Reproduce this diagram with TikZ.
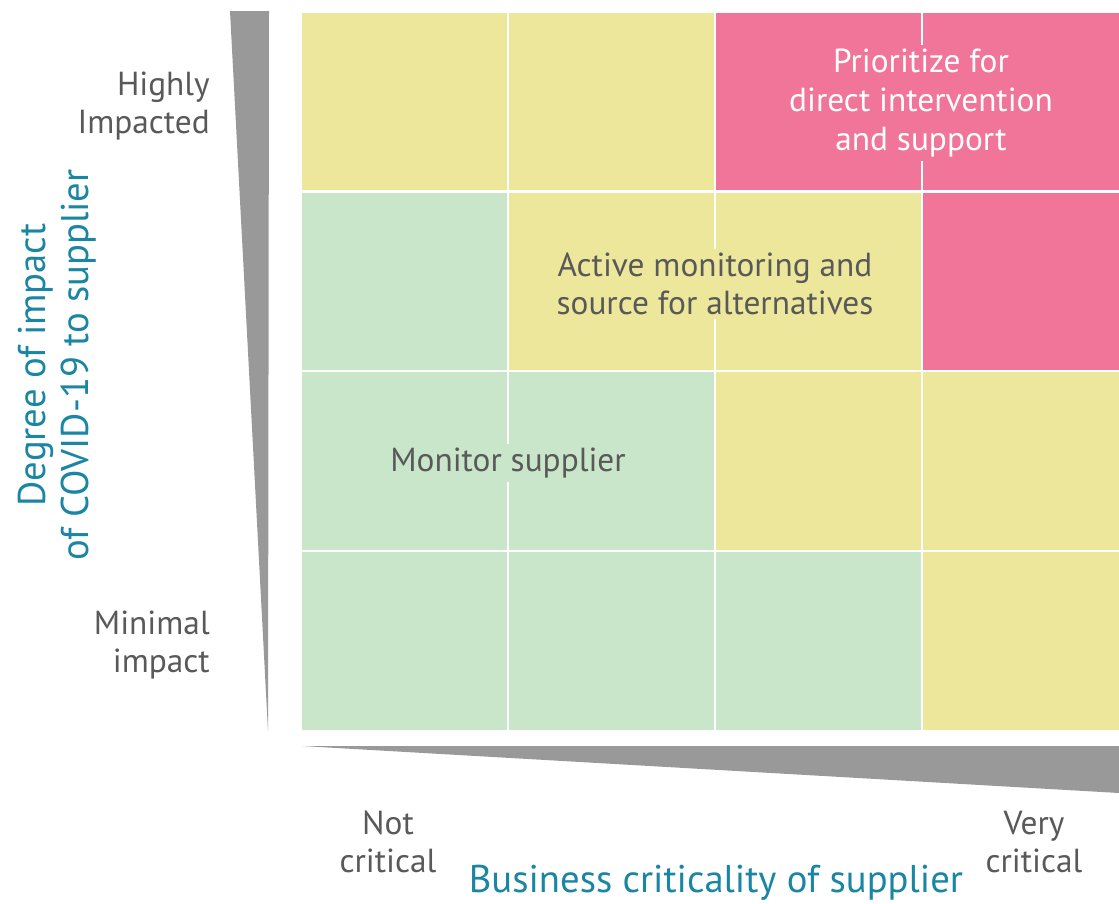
\documentclass[tikz,border=0pt]{standalone}
\usepackage{fontspec}
\setmainfont{PT Sans}
\usepackage{tikz}
\usetikzlibrary{positioning}
\definecolor{cyel}{HTML}{EDE79B}
\definecolor{cpink}{HTML}{F07598}
\definecolor{cgreen}{HTML}{C9E6CA}
\definecolor{caxis}{HTML}{999999}
\definecolor{ctext}{HTML}{595959}
\definecolor{cblue}{HTML}{1A86A4}
\tikzset{
  lbl/.style={text=ctext,align=center,inner sep=0pt,font=\fontsize{25}{29}\selectfont},
  ttl/.style={text=cblue,align=center,inner sep=0pt,font=\fontsize{29}{32.5}\selectfont},
  tag/.style={lbl,inner xsep=1pt,inner ysep=3pt}
}

\begin{document}
\begin{tikzpicture}[x=0.75pt,y=-0.75pt]
  \useasboundingbox (0,0) rectangle (1119,903);
  % cells, row by row
  \foreach \c [count=\i from 0] in {cyel,cyel,cpink,cpink}
    \fill[\c] (302+207*\i,13) rectangle ++(205,177);
  \foreach \c [count=\i from 0] in {cgreen,cyel,cyel,cpink}
    \fill[\c] (302+207*\i,193) rectangle ++(205,177);
  \foreach \c [count=\i from 0] in {cgreen,cgreen,cyel,cyel}
    \fill[\c] (302+207*\i,372) rectangle ++(205,178);
  \foreach \c [count=\i from 0] in {cgreen,cgreen,cgreen,cyel}
    \fill[\c] (302+207*\i,552) rectangle ++(205,178);
  \fill[white] (1119,0) rectangle (1130,903);
  % axis wedges
  \fill[caxis] (230,11) -- (269,11) -- (268,731) -- cycle;
  \fill[caxis] (302,746) -- (1119,746) -- (1119,793) -- cycle;
  % quadrant texts
  \node[tag,fill=cpink,text=white] (prio) at (921,103) {Prioritize for\\direct intervention\\and support};
  \node[tag,fill=cyel] (watch) at (715,284) {Active monitoring and\\source for alternatives};
  \node[tag,fill=cgreen] (mon) at (508,463) {Monitor supplier};
  % axis ends
  \node[lbl,align=right,anchor=east] (high) at (210,106) {Highly\\Impacted};
  \node[lbl,align=right,anchor=east] (low) at (210,645) {Minimal\\impact};
  \node[lbl] (notc) at (388,842) {Not\\critical};
  \node[lbl] (veryc) at (1034,842) {Very\\critical};
  % axis titles
  \node[ttl] (xttl) at (716,883) {Business criticality of supplier};
  \node[ttl,rotate=90] (yttl) at (57,365) {Degree of impact\\of COVID-19 to supplier};
\end{tikzpicture}
\end{document}
